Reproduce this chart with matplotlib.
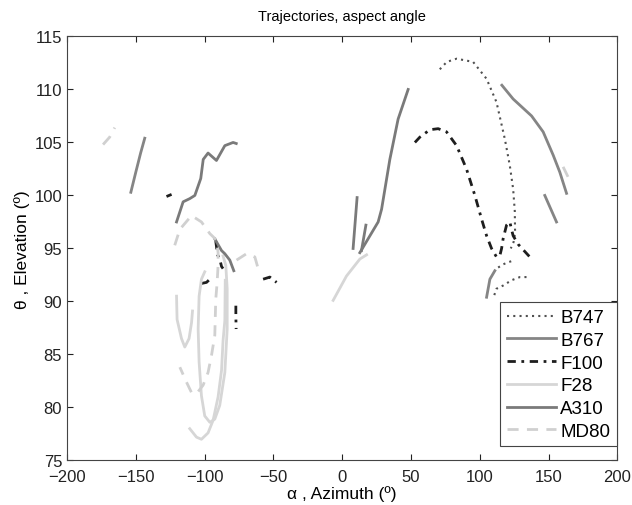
import matplotlib
matplotlib.use("Agg")
import matplotlib.pyplot as plt

plt.rcParams['font.family'] = ['Liberation Sans', 'DejaVu Sans']

# --- trajectories (azimuth deg, elevation deg) ---
# B747 (dotted)
b747_az_1 = [70.9, 76.0, 83.1, 95.1, 104.9, 112.1, 118.2, 121.8, 124.2, 125.4, 125.6, 124.5, 122.5]
b747_el_1 = [111.9, 112.6, 112.9, 112.6, 111.0, 108.8, 105.3, 102.8, 100.6, 98.5, 96.5, 95.6, 95.0]
b747_az_2 = [113.3, 116.9, 120.6, 125.4]
b747_el_2 = [93.2, 93.5, 93.7, 93.9]
b747_az_3 = [110.5, 112.1, 116.9, 123.0, 129.1, 135.0]
b747_el_3 = [90.6, 91.2, 91.5, 92.0, 92.3, 92.3]

# B767 (solid, mid grey)
b767_az_1 = [-153.6, -150.0, -146.5, -143.5]
b767_el_1 = [100.3, 102.2, 104.0, 105.4]
b767_az_2 = [116.0, 124.2, 137.6, 146.0, 153.3, 158.1, 163.0]
b767_el_2 = [110.4, 109.1, 107.5, 106.0, 103.8, 102.2, 100.2]
b767_az_3 = [147.2, 155.7]
b767_el_3 = [100.0, 97.5]
b767_az_4 = [104.9, 107.3, 110.9]
b767_el_4 = [90.4, 92.1, 92.9]

# F100 (dash-dot, black)
f100_az_1 = [52.8, 56.4, 63.7, 69.7, 75.8, 83.1, 90.3, 96.4, 101.2, 104.9, 108.5, 112.1,
             114.5, 115.8, 116.9, 119.4, 121.8, 123.0, 124.2, 127.8, 136.3]
f100_el_1 = [105.0, 105.5, 106.2, 106.3, 106.0, 104.7, 102.5, 100.0, 97.8, 96.2, 95.0, 94.2,
             94.3, 95.0, 95.9, 97.2, 97.5, 96.8, 96.2, 95.4, 94.2]
f100_az_2 = [-102.3, -98.6, -96.2]
f100_el_2 = [91.7, 91.8, 92.1]
f100_az_3 = [-57.5, -52.6, -47.7]
f100_el_3 = [92.1, 92.3, 91.8]
f100_az_4 = [-77.3, -77.3, -77.1]
f100_el_4 = [89.6, 88.7, 87.4]
f100_az_5 = [-91.9, -90.6, -89.0, -87.7, -86.6]
f100_el_5 = [95.7, 94.4, 94.0, 93.3, 93.1]
f100_az_6 = [-127.7, -124.0]
f100_el_6 = [99.9, 100.1]

# F28 (solid, light grey)
f28_az_1 = [-6.6, 3.1, 12.8, 17.7]
f28_el_1 = [90.1, 92.4, 94.0, 94.4]
f28_az_2 = [-120.4, -120.0, -116.8, -114.4, -111.3, -109.5, -108.8]
f28_el_2 = [90.5, 88.3, 86.5, 85.7, 86.5, 88.0, 89.1]
f28_az_3 = [-99.9, -102.3, -104.0, -104.7, -104.0, -102.3, -99.9, -96.2, -92.6, -89.0,
            -85.3, -83.6, -83.6, -84.6, -86.6]
f28_el_3 = [92.8, 92.1, 90.5, 87.4, 84.3, 81.1, 79.2, 78.6, 78.9, 80.2,
            83.3, 87.4, 91.2, 93.4, 94.3]
f28_az_4 = [-110.8, -105.9, -102.3, -97.5, -93.8, -90.2, -87.7, -86.6, -85.3, -85.0]
f28_el_4 = [78.0, 77.2, 77.0, 77.6, 78.8, 81.0, 83.5, 86.3, 88.2, 92.0]

# A310 (solid, mid grey)
a310_az_1 = [-120.4, -115.6, -110.8, -107.1, -102.8, -101.0, -97.5, -94.0, -91.4, -85.3, -79.3, -77.0]
a310_el_1 = [97.5, 99.4, 99.7, 100.0, 101.6, 103.4, 104.0, 103.6, 103.3, 104.7, 105.0, 104.9]
a310_az_2 = [-92.6, -87.7, -85.3, -81.7, -78.8]
a310_el_2 = [95.9, 94.8, 94.5, 93.9, 92.9]
a310_az_3 = [12.8, 26.1, 28.6, 34.6, 40.6, 47.9]
a310_el_3 = [94.6, 97.5, 98.7, 103.4, 107.2, 110.0]
a310_az_4 = [7.9, 10.8]
a310_el_4 = [95.0, 99.8]
a310_az_5 = [14.0, 17.2]
a310_el_5 = [94.8, 97.2]

# MD80 (dashed, light grey)
md80_az_1 = [-173.8, -169.0, -165.3]
md80_el_1 = [104.8, 105.5, 106.4]
md80_az_2 = [-121.7, -118.0, -109.5, -102.3, -96.2, -91.4, -90.2, -90.2, -90.9, -91.9, -92.6,
             -95.0, -97.5, -101.1, -105.9, -109.5, -113.2, -118.0]
md80_el_2 = [95.3, 96.8, 98.1, 97.5, 96.4, 95.8, 94.6, 93.4, 91.8, 90.2, 86.8,
             84.9, 83.3, 82.1, 81.3, 81.4, 82.4, 83.8]
md80_az_3 = [-76.8, -69.6, -63.5, -61.1]
md80_el_3 = [93.9, 94.5, 94.2, 93.1]
md80_az_4 = [160.5, 165.4]
md80_el_4 = [102.7, 101.4]

names = ['B747', 'B767', 'F100', 'F28', 'A310', 'MD80']
segments = {
    'B747': [(b747_az_1, b747_el_1), (b747_az_2, b747_el_2), (b747_az_3, b747_el_3)],
    'B767': [(b767_az_1, b767_el_1), (b767_az_2, b767_el_2), (b767_az_3, b767_el_3), (b767_az_4, b767_el_4)],
    'F100': [(f100_az_1, f100_el_1), (f100_az_2, f100_el_2), (f100_az_3, f100_el_3),
             (f100_az_4, f100_el_4), (f100_az_5, f100_el_5), (f100_az_6, f100_el_6)],
    'F28': [(f28_az_1, f28_el_1), (f28_az_2, f28_el_2), (f28_az_3, f28_el_3), (f28_az_4, f28_el_4)],
    'A310': [(a310_az_1, a310_el_1), (a310_az_2, a310_el_2), (a310_az_3, a310_el_3),
             (a310_az_4, a310_el_4), (a310_az_5, a310_el_5)],
    'MD80': [(md80_az_1, md80_el_1), (md80_az_2, md80_el_2), (md80_az_3, md80_el_3), (md80_az_4, md80_el_4)],
}
styles = {
    'B747': dict(color='#505050', lw=1.5, linestyle=(0, (1, 2))),
    'B767': dict(color='#858585', lw=2.0, linestyle='-'),
    'F100': dict(color='#1e1e1e', lw=2.0, linestyle=(0, (3, 2, 1, 2))),
    'F28': dict(color='#d6d6d6', lw=2.0, linestyle='-'),
    'A310': dict(color='#7a7a7a', lw=2.0, linestyle='-'),
    'MD80': dict(color='#d0d0d0', lw=2.0, linestyle=(0, (4, 3))),
}

fig = plt.figure(figsize=(6.32, 5.06), dpi=100)
ax = fig.add_axes([0.106, 0.088, 0.871, 0.838])

for name in names:
    for i, (az, el) in enumerate(segments[name]):
        ax.plot(az, el, label=name if i == 0 else None, **styles[name])

ax.set_xlim(-200, 200)
ax.set_ylim(75, 115)
ax.set_xticks(range(-200, 201, 50))
ax.set_yticks(range(75, 116, 5))
ax.tick_params(direction='in', top=True, right=True, labelsize=12, length=4, colors='#222222')
ax.tick_params(axis='x', pad=6)
for sp in ax.spines.values():
    sp.set_color('#444444')
    sp.set_linewidth(0.8)

ax.set_title('Trajectories, aspect angle', fontsize=10.5, pad=12)
ax.set_xlabel('α , Azimuth (º)', fontsize=12.5, labelpad=1)
ax.set_ylabel('θ , Elevation (º)', fontsize=12.5, labelpad=3)

leg = ax.legend(loc='lower right', bbox_to_anchor=(0.999, 0.033), borderaxespad=0,
                fontsize=13.5, handlelength=2.6, handletextpad=0.25, labelspacing=0.3,
                fancybox=False, framealpha=1, borderpad=0.35)
leg.get_frame().set_edgecolor('#444444')
leg.get_frame().set_linewidth(0.8)

fig.savefig('out.png', dpi=100)
